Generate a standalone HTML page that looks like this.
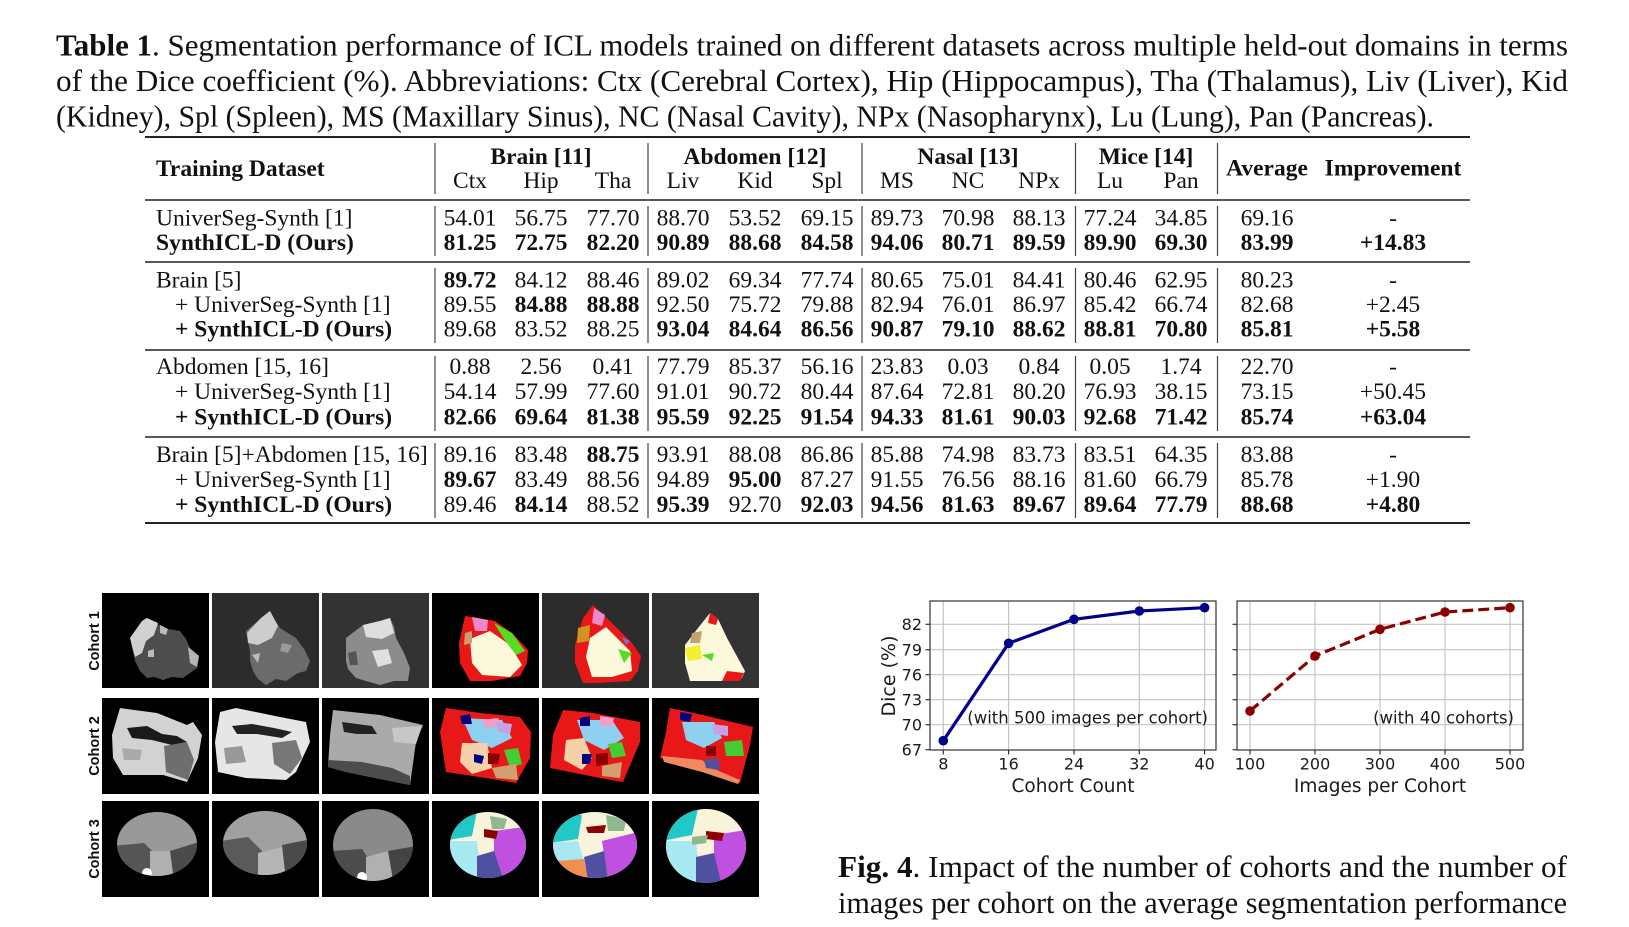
<!DOCTYPE html>
<html><head><meta charset="utf-8">
<style>
html,body{margin:0;padding:0;background:#fff;}
svg{display:block;}
.cap{font-family:"Liberation Serif",serif;font-size:31px;fill:#111;}
.t{font-family:"Liberation Serif",serif;font-size:23.5px;fill:#111;}
.b{font-weight:bold;}
.p{font-family:"DejaVu Sans","Liberation Sans",sans-serif;fill:#1a1a1a;}
.cl{font-family:"Liberation Sans",Arial,sans-serif;font-weight:bold;font-size:14.5px;fill:#111;}
</style></head><body>
<svg width="1629" height="927" viewBox="0 0 1629 927" xmlns="http://www.w3.org/2000/svg">
<rect width="1629" height="927" fill="#fff"/>

<!-- Table caption -->
<text class="cap" x="56" y="55.5" textLength="1512" lengthAdjust="spacingAndGlyphs"><tspan font-weight="bold">Table 1</tspan>.  Segmentation performance of ICL models trained on different datasets across multiple held-out domains in terms</text>
<text class="cap" x="56" y="91" textLength="1512" lengthAdjust="spacingAndGlyphs">of the Dice coefficient (%).  Abbreviations:  Ctx (Cerebral Cortex), Hip (Hippocampus), Tha (Thalamus), Liv (Liver), Kid</text>
<text class="cap" x="56" y="126.5" textLength="1378" lengthAdjust="spacingAndGlyphs">(Kidney), Spl (Spleen), MS (Maxillary Sinus), NC (Nasal Cavity), NPx (Nasopharynx), Lu (Lung), Pan (Pancreas).</text>

<!-- Table rules -->
<g stroke="#222" fill="none">
<line x1="145" y1="137" x2="1470" y2="137" stroke-width="2"/>
<line x1="145" y1="200" x2="1470" y2="200" stroke-width="1.5"/>
<line x1="145" y1="262" x2="1470" y2="262" stroke-width="1.5"/>
<line x1="145" y1="350" x2="1470" y2="350" stroke-width="1.5"/>
<line x1="145" y1="437" x2="1470" y2="437" stroke-width="1.5"/>
<line x1="145" y1="523" x2="1470" y2="523" stroke-width="2"/>
</g>
<g stroke="#444" stroke-width="1.2">
<line x1="435" y1="143" x2="435" y2="194"/><line x1="648" y1="143" x2="648" y2="194"/><line x1="862" y1="143" x2="862" y2="194"/><line x1="1075.5" y1="143" x2="1075.5" y2="194"/><line x1="1217.5" y1="143" x2="1217.5" y2="194"/>
<line x1="435" y1="206" x2="435" y2="256"/><line x1="648" y1="206" x2="648" y2="256"/><line x1="862" y1="206" x2="862" y2="256"/><line x1="1075.5" y1="206" x2="1075.5" y2="256"/><line x1="1217.5" y1="206" x2="1217.5" y2="256"/>
<line x1="435" y1="268" x2="435" y2="343"/><line x1="648" y1="268" x2="648" y2="343"/><line x1="862" y1="268" x2="862" y2="343"/><line x1="1075.5" y1="268" x2="1075.5" y2="343"/><line x1="1217.5" y1="268" x2="1217.5" y2="343"/>
<line x1="435" y1="356" x2="435" y2="431"/><line x1="648" y1="356" x2="648" y2="431"/><line x1="862" y1="356" x2="862" y2="431"/><line x1="1075.5" y1="356" x2="1075.5" y2="431"/><line x1="1217.5" y1="356" x2="1217.5" y2="431"/>
<line x1="435" y1="443" x2="435" y2="518"/><line x1="648" y1="443" x2="648" y2="518"/><line x1="862" y1="443" x2="862" y2="518"/><line x1="1075.5" y1="443" x2="1075.5" y2="518"/><line x1="1217.5" y1="443" x2="1217.5" y2="518"/>
</g>

<!-- Header -->
<g class="t">
<text x="156" y="176" class="b">Training Dataset</text>
<g text-anchor="middle">
<text x="541" y="164" class="b">Brain [11]</text>
<text x="755" y="164" class="b">Abdomen [12]</text>
<text x="968" y="164" class="b">Nasal [13]</text>
<text x="1146" y="164" class="b">Mice [14]</text>
<text x="1267" y="175.5" class="b">Average</text>
<text x="1393" y="175.5" class="b">Improvement</text>
<text x="470" y="188">Ctx</text><text x="541" y="188">Hip</text><text x="613" y="188">Tha</text>
<text x="683" y="188">Liv</text><text x="755" y="188">Kid</text><text x="827" y="188">Spl</text>
<text x="897" y="188">MS</text><text x="968" y="188">NC</text><text x="1039" y="188">NPx</text>
<text x="1110" y="188">Lu</text><text x="1181" y="188">Pan</text>
</g>
</g>

<!-- Group 1 -->
<g class="t">
<text x="156" y="225.5">UniverSeg-Synth [1]</text>
<text x="156" y="250" class="b">SynthICL-D (Ours)</text>
<g text-anchor="middle">
<text x="470" y="225.5">54.01</text><text x="541" y="225.5">56.75</text><text x="613" y="225.5">77.70</text><text x="683" y="225.5">88.70</text><text x="755" y="225.5">53.52</text><text x="827" y="225.5">69.15</text><text x="897" y="225.5">89.73</text><text x="968" y="225.5">70.98</text><text x="1039" y="225.5">88.13</text><text x="1110" y="225.5">77.24</text><text x="1181" y="225.5">34.85</text><text x="1267" y="225.5">69.16</text><text x="1393" y="225.5">-</text>
<g class="b">
<text x="470" y="250">81.25</text><text x="541" y="250">72.75</text><text x="613" y="250">82.20</text><text x="683" y="250">90.89</text><text x="755" y="250">88.68</text><text x="827" y="250">84.58</text><text x="897" y="250">94.06</text><text x="968" y="250">80.71</text><text x="1039" y="250">89.59</text><text x="1110" y="250">89.90</text><text x="1181" y="250">69.30</text><text x="1267" y="250">83.99</text><text x="1393" y="250">+14.83</text>
</g>
</g>
</g>

<!-- Group 2 -->
<g class="t">
<text x="156" y="287.5">Brain [5]</text>
<text x="175" y="312">+ UniverSeg-Synth [1]</text>
<text x="175" y="336.5" class="b">+ SynthICL-D (Ours)</text>
<g text-anchor="middle">
<text x="470" y="287.5" class="b">89.72</text><text x="541" y="287.5">84.12</text><text x="613" y="287.5">88.46</text><text x="683" y="287.5">89.02</text><text x="755" y="287.5">69.34</text><text x="827" y="287.5">77.74</text><text x="897" y="287.5">80.65</text><text x="968" y="287.5">75.01</text><text x="1039" y="287.5">84.41</text><text x="1110" y="287.5">80.46</text><text x="1181" y="287.5">62.95</text><text x="1267" y="287.5">80.23</text><text x="1393" y="287.5">-</text>
<text x="470" y="312">89.55</text><text x="541" y="312" class="b">84.88</text><text x="613" y="312" class="b">88.88</text><text x="683" y="312">92.50</text><text x="755" y="312">75.72</text><text x="827" y="312">79.88</text><text x="897" y="312">82.94</text><text x="968" y="312">76.01</text><text x="1039" y="312">86.97</text><text x="1110" y="312">85.42</text><text x="1181" y="312">66.74</text><text x="1267" y="312">82.68</text><text x="1393" y="312">+2.45</text>
<text x="470" y="336.5">89.68</text><text x="541" y="336.5">83.52</text><text x="613" y="336.5">88.25</text>
<g class="b">
<text x="683" y="336.5">93.04</text><text x="755" y="336.5">84.64</text><text x="827" y="336.5">86.56</text><text x="897" y="336.5">90.87</text><text x="968" y="336.5">79.10</text><text x="1039" y="336.5">88.62</text><text x="1110" y="336.5">88.81</text><text x="1181" y="336.5">70.80</text><text x="1267" y="336.5">85.81</text><text x="1393" y="336.5">+5.58</text>
</g>
</g>
</g>

<!-- Group 3 -->
<g class="t">
<text x="156" y="374">Abdomen [15, 16]</text>
<text x="175" y="399">+ UniverSeg-Synth [1]</text>
<text x="175" y="424.5" class="b">+ SynthICL-D (Ours)</text>
<g text-anchor="middle">
<text x="470" y="374">0.88</text><text x="541" y="374">2.56</text><text x="613" y="374">0.41</text><text x="683" y="374">77.79</text><text x="755" y="374">85.37</text><text x="827" y="374">56.16</text><text x="897" y="374">23.83</text><text x="968" y="374">0.03</text><text x="1039" y="374">0.84</text><text x="1110" y="374">0.05</text><text x="1181" y="374">1.74</text><text x="1267" y="374">22.70</text><text x="1393" y="374">-</text>
<text x="470" y="399">54.14</text><text x="541" y="399">57.99</text><text x="613" y="399">77.60</text><text x="683" y="399">91.01</text><text x="755" y="399">90.72</text><text x="827" y="399">80.44</text><text x="897" y="399">87.64</text><text x="968" y="399">72.81</text><text x="1039" y="399">80.20</text><text x="1110" y="399">76.93</text><text x="1181" y="399">38.15</text><text x="1267" y="399">73.15</text><text x="1393" y="399">+50.45</text>
<g class="b">
<text x="470" y="424.5">82.66</text><text x="541" y="424.5">69.64</text><text x="613" y="424.5">81.38</text><text x="683" y="424.5">95.59</text><text x="755" y="424.5">92.25</text><text x="827" y="424.5">91.54</text><text x="897" y="424.5">94.33</text><text x="968" y="424.5">81.61</text><text x="1039" y="424.5">90.03</text><text x="1110" y="424.5">92.68</text><text x="1181" y="424.5">71.42</text><text x="1267" y="424.5">85.74</text><text x="1393" y="424.5">+63.04</text>
</g>
</g>
</g>

<!-- Group 4 -->
<g class="t">
<text x="156" y="462">Brain [5]+Abdomen [15, 16]</text>
<text x="175" y="487">+ UniverSeg-Synth [1]</text>
<text x="175" y="512" class="b">+ SynthICL-D (Ours)</text>
<g text-anchor="middle">
<text x="470" y="462">89.16</text><text x="541" y="462">83.48</text><text x="613" y="462" class="b">88.75</text><text x="683" y="462">93.91</text><text x="755" y="462">88.08</text><text x="827" y="462">86.86</text><text x="897" y="462">85.88</text><text x="968" y="462">74.98</text><text x="1039" y="462">83.73</text><text x="1110" y="462">83.51</text><text x="1181" y="462">64.35</text><text x="1267" y="462">83.88</text><text x="1393" y="462">-</text>
<text x="470" y="487" class="b">89.67</text><text x="541" y="487">83.49</text><text x="613" y="487">88.56</text><text x="683" y="487">94.89</text><text x="755" y="487" class="b">95.00</text><text x="827" y="487">87.27</text><text x="897" y="487">91.55</text><text x="968" y="487">76.56</text><text x="1039" y="487">88.16</text><text x="1110" y="487">81.60</text><text x="1181" y="487">66.79</text><text x="1267" y="487">85.78</text><text x="1393" y="487">+1.90</text>
<text x="470" y="512">89.46</text><text x="541" y="512" class="b">84.14</text><text x="613" y="512">88.52</text><text x="683" y="512" class="b">95.39</text><text x="755" y="512">92.70</text><text x="827" y="512" class="b">92.03</text>
<g class="b">
<text x="897" y="512">94.56</text><text x="968" y="512">81.63</text><text x="1039" y="512">89.67</text><text x="1110" y="512">89.64</text><text x="1181" y="512">77.79</text><text x="1267" y="512">88.68</text><text x="1393" y="512">+4.80</text>
</g>
</g>
</g>

<!-- Cohort labels -->
<text class="cl" text-anchor="middle" transform="translate(99,641) rotate(-90)">Cohort 1</text>
<text class="cl" text-anchor="middle" transform="translate(99,746) rotate(-90)">Cohort 2</text>
<text class="cl" text-anchor="middle" transform="translate(99,849) rotate(-90)">Cohort 3</text>

<defs>
<clipPath id="e1"><ellipse cx="55" cy="43" rx="40" ry="32"/></clipPath>
<clipPath id="e2"><ellipse cx="53" cy="42" rx="42" ry="32"/></clipPath>
<clipPath id="e3"><ellipse cx="51" cy="44" rx="40" ry="36"/></clipPath>
<clipPath id="e4"><ellipse cx="56" cy="44" rx="38" ry="33"/></clipPath>
<clipPath id="e5"><ellipse cx="53" cy="44" rx="42" ry="33"/></clipPath>
<clipPath id="e6"><ellipse cx="54" cy="45" rx="40" ry="37"/></clipPath>
</defs>

<!-- Row 1 -->
<g transform="translate(102,593)">
<rect width="107" height="95" fill="#000"/>
<polygon points="28,45 40,28 45,25 52,30 58,32 66,36 78,38 84,46 88,55 97,63 95,75 88,80 81,85 70,84 61,87 52,84 45,85 38,78 33,68 30,55" fill="#4d4d4d"/>
<polygon points="28,45 40,28 45,25 56,30 52,42 44,48 40,60 33,64" fill="#d0d0d0"/>
<polygon points="58,32 66,36 64,42 58,40" fill="#bbb"/>
<polygon points="86,54 97,63 95,74 88,70" fill="#b5b5b5"/>
<polygon points="46,58 52,56 52,64 46,64" fill="#bbb"/>
</g>
<g transform="translate(212,593)">
<rect width="107" height="95" fill="#2c2c2c"/>
<polygon points="34,38 49,25 58,18 62,26 68,35 76,40 84,45 92,56 98,68 94,78 86,80 74,88 64,86 54,92 46,86 41,78 38,68 38,58" fill="#6b6b6b"/>
<polygon points="49,25 58,18 66,33 60,45 46,52 36,50 35,40" fill="#cdcdcd"/>
<polygon points="40,62 48,60 46,70" fill="#bbb"/>
<polygon points="70,50 80,52 76,60 68,58" fill="#9a9a9a"/>
</g>
<g transform="translate(322,593)">
<rect width="107" height="95" fill="#333"/>
<polygon points="24,45 41,32 58,28 68,25 72,34 74,45 82,60 88,75 86,88 72,88 58,92 44,88 34,85 26,76 24,68" fill="#8c8c8c"/>
<polygon points="41,32 58,28 68,25 72,40 60,46 44,44" fill="#dedede"/>
<polygon points="50,58 66,56 70,70 56,74" fill="#e0e0e0"/>
<polygon points="26,60 34,58 36,72 28,72" fill="#555"/>
</g>
<g transform="translate(432,593)">
<rect width="107" height="95" fill="#000"/>
<polygon points="33,23 63,28 80,40 96,57 95,70 88,83 60,88 38,88 28,70 27,50" fill="#e81818"/>
<polygon points="38,46 58,38 78,52 90,72 78,84 50,82 40,70" fill="#fbf8dc"/>
<polygon points="40,24 56,27 55,38 43,38" fill="#ee88c8"/>
<polygon points="62,30 80,40 93,58 84,62 72,46" fill="#55dd22"/>
<polygon points="33,40 40,38 40,50 32,52" fill="#c8a070"/>
</g>
<g transform="translate(542,593)">
<rect width="107" height="95" fill="#2c2c2c"/>
<polygon points="51,12 70,30 90,50 99,63 96,78 88,88 55,90 41,90 33,70 33,52 41,25" fill="#e81818"/>
<polygon points="48,45 64,34 88,58 90,78 70,84 50,84 44,64" fill="#fbf8dc"/>
<polygon points="52,15 63,22 60,33 50,30" fill="#ee88c8"/>
<polygon points="36,35 48,32 47,48 35,50" fill="#d4931e"/>
<polygon points="76,56 90,60 82,70" fill="#55dd22"/>
<polygon points="80,44 88,48 84,52" fill="#8866dd"/>
</g>
<g transform="translate(652,593)">
<rect width="107" height="95" fill="#333"/>
<polygon points="58,20 66,26 75,45 93,78 90,85 81,88 38,88 33,70 33,52 46,35" fill="#fbf8dc"/>
<polygon points="58,20 66,26 64,32 56,30" fill="#e81818"/>
<polygon points="75,78 92,80 88,88 70,88" fill="#e81818"/>
<polygon points="33,55 48,52 50,66 36,68" fill="#f4ee30"/>
<polygon points="40,40 50,38 48,50 38,50" fill="#c8a070"/>
<polygon points="50,62 62,60 60,68" fill="#55dd22"/>
</g>

<!-- Row 2 -->
<g transform="translate(102,698)">
<rect width="107" height="96" fill="#000"/>
<polygon points="18,10 55,15 85,27 91,24 100,37 96,60 85,84 61,77 21,77 11,60 10,37" fill="#d2d2d2"/>
<polygon points="25,30 45,28 60,36 75,38 85,44 70,47 50,42 30,40" fill="#1a1a1a"/>
<polygon points="62,48 85,44 92,62 86,82 64,74" fill="#6e6e6e"/>
<polygon points="20,50 40,52 38,62 22,62" fill="#aaa"/>
</g>
<g transform="translate(212,698)">
<rect width="107" height="96" fill="#000"/>
<polygon points="8,14 24,10 68,19 94,24 98,44 84,74 74,82 34,80 6,74 3,44" fill="#e6e6e6"/>
<polygon points="20,28 40,26 62,30 80,34 70,40 45,36 25,36" fill="#222"/>
<polygon points="60,45 84,42 90,60 78,76 62,66" fill="#777"/>
<polygon points="12,50 30,48 34,64 14,66" fill="#999"/>
</g>
<g transform="translate(322,698)">
<rect width="107" height="96" fill="#000"/>
<polygon points="11,12 58,17 101,27 94,44 88,87 24,74 6,69 8,37" fill="#aaa"/>
<polygon points="6,62 40,64 70,70 88,78 88,87 24,74 6,69" fill="#4c4c4c"/>
<polygon points="20,24 50,28 55,36 35,36 22,34" fill="#222"/>
<polygon points="70,30 100,28 94,46 72,44" fill="#c8c8c8"/>
</g>
<g transform="translate(432,698)">
<rect width="107" height="96" fill="#000"/>
<polygon points="14,10 48,15 88,19 99,34 98,60 84,85 54,80 14,74 8,34" fill="#e81818"/>
<polygon points="30,20 70,22 80,40 60,50 40,42" fill="#8ed0f0"/>
<polygon points="30,45 55,45 60,70 40,76 28,64" fill="#f5d0a8"/>
<polygon points="28,18 38,16 40,26 30,26" fill="#000080"/>
<polygon points="42,56 52,58 50,66 42,64" fill="#000080"/>
<polygon points="56,55 68,56 66,66 56,66" fill="#8b0000"/>
<polygon points="72,52 86,50 90,66 78,70" fill="#44cc33"/>
<polygon points="60,70 84,66 86,82 64,80" fill="#d2a070"/>
<polygon points="50,22 66,20 70,28 54,30" fill="#f0a0c8"/>
<polygon points="64,24 80,26 78,36 66,34" fill="#c8a0e8"/>
</g>
<g transform="translate(542,698)">
<rect width="107" height="96" fill="#000"/>
<polygon points="21,12 51,15 98,24 98,44 81,84 58,80 8,70 11,37" fill="#e81818"/>
<polygon points="35,22 70,22 82,40 62,52 42,42" fill="#8ed0f0"/>
<polygon points="24,42 42,40 50,60 40,72 22,62" fill="#f5d0a8"/>
<polygon points="38,20 48,18 48,28 38,28" fill="#000080"/>
<polygon points="40,56 50,56 48,66 40,66" fill="#000080"/>
<polygon points="54,56 66,55 66,66 54,68" fill="#8b0000"/>
<polygon points="66,46 80,44 84,58 70,60" fill="#44cc33"/>
<polygon points="60,68 80,64 78,80 60,78" fill="#d2a070"/>
<polygon points="58,18 72,20 70,28 58,28" fill="#f0a0c8"/>
</g>
<g transform="translate(652,698)">
<rect width="107" height="96" fill="#000"/>
<polygon points="18,10 51,17 101,29 98,47 88,85 58,74 8,60 14,34" fill="#e81818"/>
<polygon points="30,24 62,24 70,40 52,50 34,42" fill="#8ed0f0"/>
<polygon points="10,58 50,62 60,70 88,82 86,86 50,74 12,64" fill="#f08860"/>
<polygon points="54,48 64,48 64,58 54,58" fill="#8b0000"/>
<polygon points="28,14 40,16 38,24 28,22" fill="#000080"/>
<polygon points="72,44 90,42 92,58 74,58" fill="#44cc33"/>
<polygon points="52,62 66,60 68,72 54,70" fill="#5050a0"/>
<polygon points="60,26 76,28 76,38 62,36" fill="#c8a0e8"/>
</g>

<!-- Row 3 -->
<g transform="translate(102,801)">
<rect width="107" height="96" fill="#000"/>
<g clip-path="url(#e1)">
<rect width="107" height="96" fill="#999"/>
<polygon points="10,45 42,42 50,50 48,80 10,80" fill="#555"/>
<polygon points="68,50 100,40 100,80 70,80" fill="#4a4a4a"/>
<polygon points="48,50 68,50 72,80 48,80" fill="#b0b0b0"/>
<circle cx="45" cy="72" r="5" fill="#fff"/>
</g>
</g>
<g transform="translate(212,801)">
<rect width="107" height="96" fill="#000"/>
<g clip-path="url(#e2)">
<rect width="107" height="96" fill="#a0a0a0"/>
<polygon points="8,40 36,36 50,50 46,80 8,80" fill="#5a5a5a"/>
<polygon points="70,44 100,38 100,80 74,80" fill="#4a4a4a"/>
<polygon points="46,52 70,46 74,80 46,80" fill="#b5b5b5"/>
</g>
</g>
<g transform="translate(322,801)">
<rect width="107" height="96" fill="#000"/>
<g clip-path="url(#e3)">
<rect width="107" height="96" fill="#8a8a8a"/>
<polygon points="8,50 40,48 48,60 44,85 8,85" fill="#4c4c4c"/>
<polygon points="66,50 100,44 100,85 70,85" fill="#444"/>
<polygon points="44,56 66,50 72,85 44,85" fill="#b0b0b0"/>
<circle cx="40" cy="76" r="5" fill="#fff"/>
</g>
</g>
<g transform="translate(432,801)">
<rect width="107" height="96" fill="#000"/>
<g clip-path="url(#e4)">
<rect width="107" height="96" fill="#f8f4dc"/>
<polygon points="10,10 45,10 40,35 10,40" fill="#22c8c8"/>
<polygon points="10,40 45,40 50,80 10,80" fill="#a8e8f0"/>
<polygon points="62,30 100,25 100,80 70,80 62,55" fill="#c050e0"/>
<polygon points="45,55 62,50 72,80 45,80" fill="#5050a0"/>
<polygon points="52,28 66,30 64,38 52,36" fill="#8b0000"/>
<polygon points="58,15 75,18 72,28 60,28" fill="#90b890"/>
</g>
</g>
<g transform="translate(542,801)">
<rect width="107" height="96" fill="#000"/>
<g clip-path="url(#e5)">
<rect width="107" height="96" fill="#f8f4dc"/>
<polygon points="8,12 40,14 36,38 8,42" fill="#22c8c8"/>
<polygon points="8,42 36,40 42,60 8,62" fill="#a8e8f0"/>
<polygon points="15,60 42,58 46,80 15,80" fill="#f09050"/>
<polygon points="60,40 100,30 100,80 66,80" fill="#c050e0"/>
<polygon points="42,56 62,50 66,80 46,80" fill="#5050a0"/>
<polygon points="44,26 64,24 62,32 46,32" fill="#8b0000"/>
<polygon points="64,14 84,18 82,30 66,30" fill="#90b890"/>
</g>
</g>
<g transform="translate(652,801)">
<rect width="107" height="96" fill="#000"/>
<g clip-path="url(#e6)">
<rect width="107" height="96" fill="#f8f4dc"/>
<polygon points="10,8 46,8 40,34 10,40" fill="#22c8c8"/>
<polygon points="10,40 44,40 48,85 10,85" fill="#a8e8f0"/>
<polygon points="62,34 100,28 100,85 70,85 62,58" fill="#c050e0"/>
<polygon points="44,56 62,52 70,85 44,85" fill="#5050a0"/>
<polygon points="54,30 72,32 70,40 54,38" fill="#8b0000"/>
<polygon points="40,36 56,34 54,42 40,44" fill="#90b890"/>
</g>
</g>

<!-- Plots -->
<g stroke="#c4c4c4" stroke-width="1.2">
<line x1="930" y1="624.3" x2="1216" y2="624.3"/><line x1="930" y1="649.7" x2="1216" y2="649.7"/><line x1="930" y1="674.7" x2="1216" y2="674.7"/><line x1="930" y1="699.7" x2="1216" y2="699.7"/><line x1="930" y1="724.7" x2="1216" y2="724.7"/>
<line x1="943.3" y1="601" x2="943.3" y2="750"/><line x1="1008.6" y1="601" x2="1008.6" y2="750"/><line x1="1074" y1="601" x2="1074" y2="750"/><line x1="1139.3" y1="601" x2="1139.3" y2="750"/><line x1="1204.6" y1="601" x2="1204.6" y2="750"/>
<line x1="1237" y1="624.3" x2="1523" y2="624.3"/><line x1="1237" y1="649.7" x2="1523" y2="649.7"/><line x1="1237" y1="674.7" x2="1523" y2="674.7"/><line x1="1237" y1="699.7" x2="1523" y2="699.7"/><line x1="1237" y1="724.7" x2="1523" y2="724.7"/>
<line x1="1250" y1="601" x2="1250" y2="750"/><line x1="1315" y1="601" x2="1315" y2="750"/><line x1="1380" y1="601" x2="1380" y2="750"/><line x1="1445" y1="601" x2="1445" y2="750"/><line x1="1510" y1="601" x2="1510" y2="750"/>
</g>
<polyline points="943.3,740.7 1008.6,643.3 1074,619.3 1139.3,611 1204.6,607.7" fill="none" stroke="#00008b" stroke-width="3.2" stroke-linejoin="round"/>
<g fill="#00008b"><circle cx="943.3" cy="740.7" r="4.8"/><circle cx="1008.6" cy="643.3" r="4.8"/><circle cx="1074" cy="619.3" r="4.8"/><circle cx="1139.3" cy="611" r="4.8"/><circle cx="1204.6" cy="607.7" r="4.8"/></g>
<polyline points="1250,711 1315,656 1380,629.3 1445,612 1510,607.7" fill="none" stroke="#8b0000" stroke-width="3.2" stroke-dasharray="11 5"/>
<g fill="#8b0000"><circle cx="1250" cy="711" r="4.8"/><circle cx="1315" cy="656" r="4.8"/><circle cx="1380" cy="629.3" r="4.8"/><circle cx="1445" cy="612" r="4.8"/><circle cx="1510" cy="607.7" r="4.8"/></g>
<g fill="none" stroke="#333" stroke-width="1.2">
<rect x="930" y="601" width="286" height="149"/>
<rect x="1237" y="601" width="286" height="149"/>
</g>
<g stroke="#333" stroke-width="1.2">
<line x1="925.5" y1="624.3" x2="930" y2="624.3"/><line x1="925.5" y1="649.7" x2="930" y2="649.7"/><line x1="925.5" y1="674.7" x2="930" y2="674.7"/><line x1="925.5" y1="699.7" x2="930" y2="699.7"/><line x1="925.5" y1="724.7" x2="930" y2="724.7"/><line x1="925.5" y1="749.7" x2="930" y2="749.7"/>
<line x1="1232.5" y1="624.3" x2="1237" y2="624.3"/><line x1="1232.5" y1="649.7" x2="1237" y2="649.7"/><line x1="1232.5" y1="674.7" x2="1237" y2="674.7"/><line x1="1232.5" y1="699.7" x2="1237" y2="699.7"/><line x1="1232.5" y1="724.7" x2="1237" y2="724.7"/><line x1="1232.5" y1="749.7" x2="1237" y2="749.7"/>
<line x1="943.3" y1="750" x2="943.3" y2="754.5"/><line x1="1008.6" y1="750" x2="1008.6" y2="754.5"/><line x1="1074" y1="750" x2="1074" y2="754.5"/><line x1="1139.3" y1="750" x2="1139.3" y2="754.5"/><line x1="1204.6" y1="750" x2="1204.6" y2="754.5"/>
<line x1="1250" y1="750" x2="1250" y2="754.5"/><line x1="1315" y1="750" x2="1315" y2="754.5"/><line x1="1380" y1="750" x2="1380" y2="754.5"/><line x1="1445" y1="750" x2="1445" y2="754.5"/><line x1="1510" y1="750" x2="1510" y2="754.5"/>
</g>
<g class="p" font-size="16px">
<g text-anchor="end">
<text x="922" y="630">82</text><text x="922" y="655.4">79</text><text x="922" y="680.4">76</text><text x="922" y="705.4">73</text><text x="922" y="730.4">70</text><text x="922" y="755.4">67</text>
</g>
<g text-anchor="middle">
<text x="943.3" y="769.5">8</text><text x="1008.6" y="769.5">16</text><text x="1074" y="769.5">24</text><text x="1139.3" y="769.5">32</text><text x="1204.6" y="769.5">40</text>
<text x="1250" y="769.5">100</text><text x="1315" y="769.5">200</text><text x="1380" y="769.5">300</text><text x="1445" y="769.5">400</text><text x="1510" y="769.5">500</text>
</g>
<text x="1208" y="723.5" text-anchor="end" font-size="16.5px">(with 500 images per cohort)</text>
<text x="1514" y="723.5" text-anchor="end" font-size="16.5px">(with 40 cohorts)</text>
</g>
<g class="p" font-size="18.5px" text-anchor="middle">
<text x="1073" y="792">Cohort Count</text>
<text x="1380" y="792">Images per Cohort</text>
<text transform="translate(895,676) rotate(-90)" font-size="19px">Dice (%)</text>
</g>

<!-- Fig caption -->
<text class="cap" x="838" y="877" textLength="729" lengthAdjust="spacingAndGlyphs"><tspan font-weight="bold">Fig. 4</tspan>.  Impact of the number of cohorts and the number of</text>
<text class="cap" x="838" y="913" textLength="729" lengthAdjust="spacingAndGlyphs">images per cohort on the average segmentation performance</text>
</svg>
</body></html>
